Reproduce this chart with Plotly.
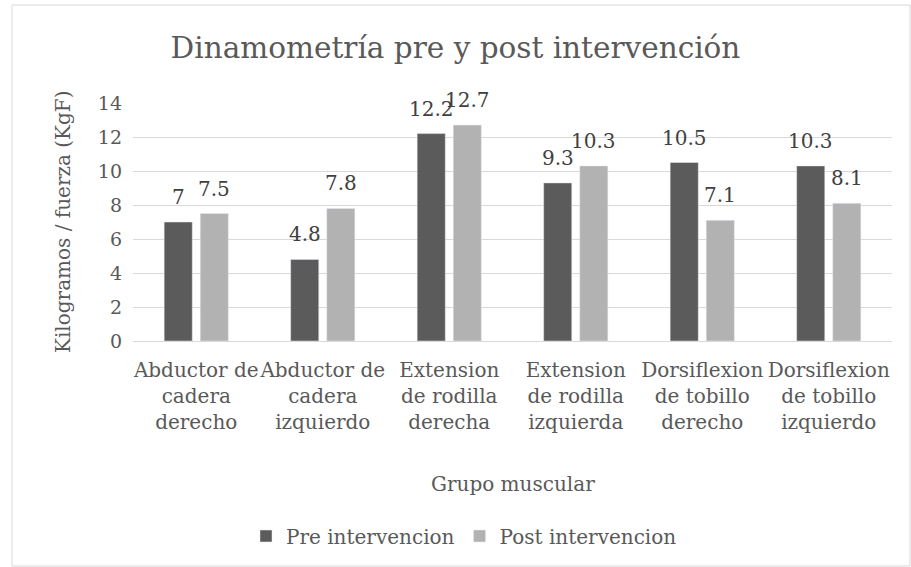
import plotly.graph_objects as go

categories = ["Abductor de<br>cadera<br>derecho", "Abductor de<br>cadera<br>izquierdo",
              "Extension<br>de rodilla<br>derecha", "Extension<br>de rodilla<br>izquierda",
              "Dorsiflexion<br>de tobillo<br>derecho", "Dorsiflexion<br>de tobillo<br>izquierdo"]
pre_values = [7, 4.8, 12.2, 9.3, 10.5, 10.3]
post_values = [7.5, 7.8, 12.7, 10.3, 7.1, 8.1]
y_ticks = [0, 2, 4, 6, 8, 10, 12, 14]

FONT = "DejaVu Serif"
TXT = "#595959"
LBL = "#404040"

fig = go.Figure()
fig.add_trace(go.Bar(x=categories, y=pre_values, name="Pre intervencion",
                     marker_color="#5b5b5b"))
fig.add_trace(go.Bar(x=categories, y=post_values, name="Post intervencion",
                     marker_color="#b2b2b2"))

# data labels above bars
for vals, shift in ((pre_values, -18), (post_values, 18)):
    for c, v in zip(categories, vals):
        fig.add_annotation(x=c, y=v, text=str(v), showarrow=False, xshift=shift, yshift=11,
                           yanchor="bottom", font=dict(size=20, color=LBL, family=FONT))

fig.update_layout(
    width=911, height=567,
    margin=dict(l=133, r=19, t=103, b=226),
    paper_bgcolor="white", plot_bgcolor="white",
    font=dict(family=FONT, color=TXT, size=20),
    barmode="group", bargap=0.43, bargroupgap=0.22,
    title=dict(text="Dinamometría pre y post intervención", x=0.5, xanchor="center",
               y=1 - 48 / 567, yanchor="middle", font=dict(size=29.5, color=TXT, family=FONT)),
    showlegend=True,
    legend=dict(orientation="h", x=(464 - 133) / 759, xanchor="center", y=(341 - 536) / 238,
                yanchor="middle", font=dict(size=20, color=TXT), itemwidth=30,
                traceorder="normal"),
)
fig.update_yaxes(range=[0, 14], tickvals=y_ticks, showgrid=True, gridcolor="#d9d9d9", gridwidth=1,
                 zeroline=False, showline=False, ticks="", tickfont=dict(size=19, color=TXT),
                 ticklabelstandoff=10)
fig.update_xaxes(showline=True, linecolor="#d9d9d9", linewidth=1, ticks="", tickangle=0,
                 tickfont=dict(size=20, color=TXT), ticklabelstandoff=11)

fig.add_annotation(text="Kilogramos / fuerza (KgF)", xref="paper", yref="paper",
                   x=(63 - 133) / 759, y=0.5, textangle=-90, showarrow=False,
                   xanchor="center", yanchor="middle", font=dict(size=20, color=TXT))
fig.add_annotation(text="Grupo muscular", xref="paper", yref="paper",
                   x=0.5, y=(341 - 484) / 238, showarrow=False,
                   xanchor="center", yanchor="middle", font=dict(size=20, color=TXT))

fig.add_shape(type="rect", xref="paper", yref="paper",
              x0=(12 - 133) / 759, x1=(910 - 133) / 759, y0=(341 - 566) / 238, y1=(341 - 5) / 238,
              line=dict(color="#d9d9d9", width=1), fillcolor="rgba(0,0,0,0)", layer="below")

fig.write_html("out.html", config={"displayModeBar": False},
               post_script="document.body.style.margin='0px';")
